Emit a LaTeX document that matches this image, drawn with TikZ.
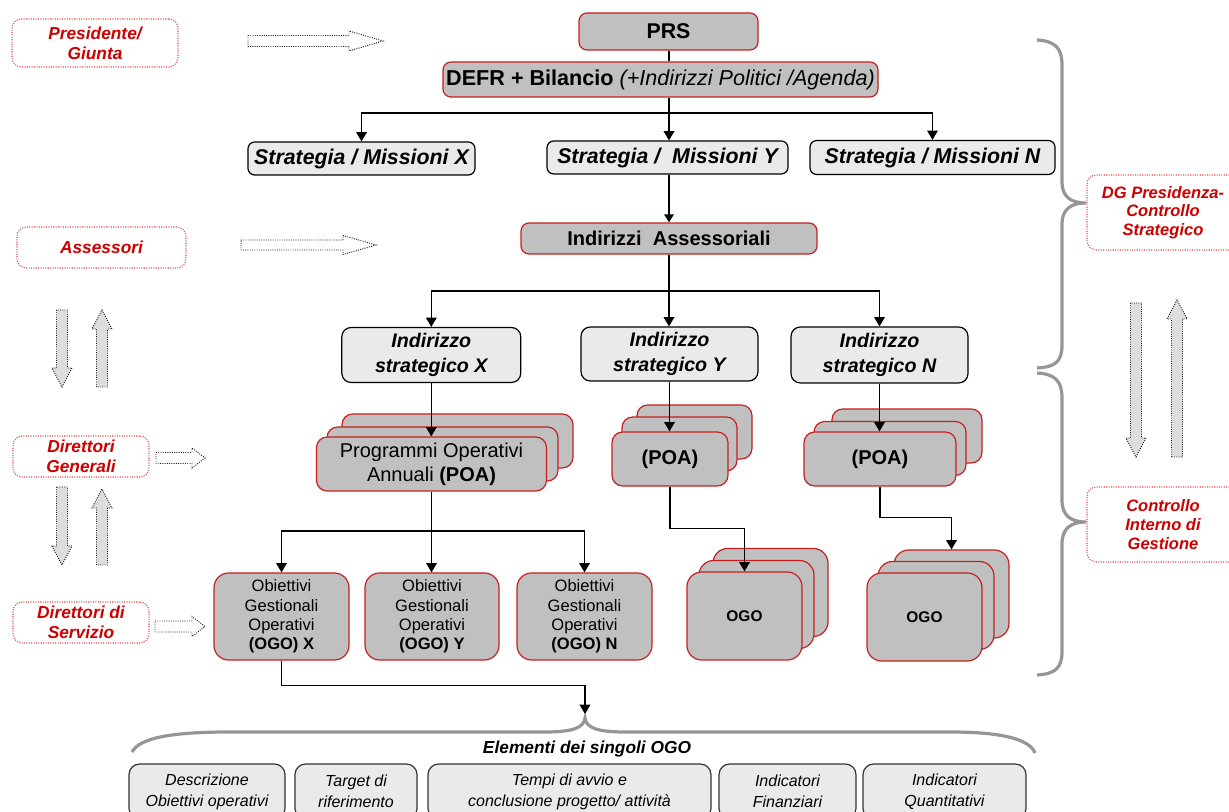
\documentclass[tikz,border=0pt]{standalone}
\usepackage{fontspec}
\setmainfont{Liberation Sans}
\usetikzlibrary{arrows.meta,positioning}

\definecolor{redc}{RGB}{204,0,0}
\definecolor{boxred}{RGB}{200,30,30}
\definecolor{darkf}{RGB}{192,192,192}
\definecolor{lightf}{RGB}{234,234,234}
\definecolor{bracec}{RGB}{150,150,150}
\definecolor{arrf}{RGB}{221,221,221}

\begin{document}
\begin{tikzpicture}[
		x=0.75pt, y=-0.75pt,
		arrow/.style={-{Triangle[length=7pt,width=8pt]}, line width=1pt},
		thickarrow/.style={-{Triangle[length=6pt,width=7pt]}, line width=2.2pt},
		block/.style={rounded corners=6pt, inner sep=0pt, align=center, line width=0.9pt},
		darkblock/.style={block, draw=boxred, fill=darkf},
		lightblock/.style={block, draw=black, fill=lightf},
		actor/.style={draw=redc!70, densely dotted, line width=0.8pt, rounded corners=7pt, text=redc, align=center, inner sep=0pt, font=\fontsize{13}{15}\selectfont\bfseries\itshape},
		hollow/.style={draw=black!90, densely dotted, line width=0.7pt},
		brace/.style={draw=bracec, line width=2.4pt},
	]
	\useasboundingbox (0,0) rectangle (1229,812);

	% actors on the left and on the right
	\node (pres) [actor, minimum width=124.5pt, minimum height=36pt] at (95,43) {Presidente/\\Giunta};
	\node (asses) [actor, minimum width=126.75pt, minimum height=30.75pt] at (101.5,247.5) {Assessori};
	\node (dirgen) [actor, minimum width=102pt, minimum height=30.75pt] at (81,456.5) {Direttori\\Generali};
	\node (dirser) [actor, minimum width=102pt, minimum height=30.75pt] at (81,622.5) {Direttori di\\Servizio};
	\node (dgpres) [actor, font=\fontsize{12.4}{14}\selectfont\bfseries\itshape, minimum width=114pt, minimum height=56.25pt] at (1163,212.5) {DG Presidenza-\\Controllo\\Strategico};
	\node (ctrlint) [actor, font=\fontsize{12.4}{14}\selectfont\bfseries\itshape, minimum width=114pt, minimum height=56.25pt] at (1163,524.5) {Controllo\\Interno di\\Gestione};

	% hollow arrows
	\draw[hollow, fill=white] (248,35.5) -- (349,35.5) -- (349,31) -- (383,41) -- (349,51) -- (349,46.5) -- (248,46.5) -- cycle;
	\draw[hollow, fill=white] (241,240) -- (343,240) -- (343,235.5) -- (376,245) -- (343,254.5) -- (343,250) -- (241,250) -- cycle;
	\draw[hollow, fill=white] (156,452.5) -- (192,452.5) -- (192,448) -- (205,458) -- (192,468) -- (192,463.5) -- (156,463.5) -- cycle;
	\draw[hollow, fill=white] (155,621) -- (192,621) -- (192,616.5) -- (205,626.5) -- (192,636.5) -- (192,632) -- (155,632) -- cycle;
	\foreach \cx/\ya/\yb in {62/310/387, 62/487/565, 1136/303/457}
		\draw[hollow, fill=arrf] (\cx-5.5,\ya) -- (\cx-5.5,\yb-19) -- (\cx-10,\yb-19) -- (\cx,\yb) -- (\cx+10,\yb-19) -- (\cx+5.5,\yb-19) -- (\cx+5.5,\ya) -- cycle;
	\foreach \cx/\ya/\yb in {102/310/387, 102/489/565, 1177/300/457}
		\draw[hollow, fill=arrf] (\cx-5.5,\yb) -- (\cx-5.5,\ya+19) -- (\cx-10,\ya+19) -- (\cx,\ya) -- (\cx+10,\ya+19) -- (\cx+5.5,\ya+19) -- (\cx+5.5,\yb) -- cycle;

	% braces
	\draw[brace] (1037,40) .. controls (1055,41) and (1062,48) .. (1062,65) -- (1062,182) .. controls (1062,196) and (1070,203) .. (1086,203) .. controls (1070,203) and (1062,210) .. (1062,224) -- (1062,345) .. controls (1062,362) and (1055,367) .. (1037,368);
	\draw[brace] (1037,373) .. controls (1055,374) and (1062,381) .. (1062,398) -- (1062,500) .. controls (1062,515) and (1070,522) .. (1086,522) .. controls (1070,522) and (1062,529) .. (1062,544) -- (1062,652) .. controls (1062,668) and (1055,674) .. (1037,675);
	\draw[brace] (132,752) .. controls (140,737) and (175,732) .. (230,732) -- (545,732) .. controls (572,732) and (584,728) .. (585,718) .. controls (586,728) and (598,732) .. (625,732) -- (950,732) .. controls (1005,732) and (1030,740) .. (1035,753);

	% top of the tree
	\node (prs) [darkblock, minimum width=134.25pt, minimum height=27.75pt, font=\fontsize{16}{18}\selectfont\bfseries] at (668.5,31.5) {PRS};
	\node (defr) [darkblock, minimum width=326.25pt, minimum height=26.25pt, font=\fontsize{16.2}{18}\selectfont\bfseries] at (660.5,79.5) {DEFR + Bilancio {\mdseries\itshape (+Indirizzi Politici /Agenda)}};
	\node (stratx) [lightblock, rounded corners=5pt, minimum width=170.25pt, minimum height=24.75pt, font=\fontsize{16}{18}\selectfont\bfseries\itshape] at (361.5,158.5) {Strategia / Missioni X};
	\node (straty) [lightblock, rounded corners=5pt, minimum width=180.75pt, minimum height=24.75pt, font=\fontsize{16}{18}\selectfont\bfseries\itshape] at (667.5,157.5) {Strategia /~ Missioni Y};
	\node (stratn) [lightblock, rounded corners=5pt, minimum width=183.75pt, minimum height=25.5pt, font=\fontsize{16}{18}\selectfont\bfseries\itshape] at (932.5,157.5) {Strategia / Missioni N};
	\node (assind) [darkblock, minimum width=222pt, minimum height=23.25pt, font=\fontsize{15}{18}\selectfont\bfseries] at (669,238.5) {Indirizzi~ Assessoriali};

	% indirizzi strategici
	\node (indx) [lightblock, rounded corners=7pt, minimum width=134.25pt, minimum height=41.25pt, font=\fontsize{14.75}{18.5}\selectfont\bfseries\itshape] at (431.3,355) {Indirizzo\\strategico X};
	\node (indy) [lightblock, rounded corners=7pt, minimum width=132.75pt, minimum height=40.5pt, font=\fontsize{14.75}{18.5}\selectfont\bfseries\itshape] at (669.5,354) {Indirizzo\\strategico Y};
	\node (indn) [lightblock, rounded corners=7pt, minimum width=132.75pt, minimum height=42pt, font=\fontsize{14.75}{18.5}\selectfont\bfseries\itshape] at (879.5,355) {Indirizzo\\strategico N};

	% POA stacks
	\node (poax3) [darkblock, rounded corners=8pt, minimum width=173.25pt, minimum height=40.5pt] at (457.5,441) {};
	\node (poax2) [darkblock, rounded corners=8pt, minimum width=173.25pt, minimum height=40.5pt] at (442.5,454) {};
	\node (poax) [darkblock, rounded corners=8pt, minimum width=172.5pt, minimum height=40.5pt, font=\fontsize{15}{18}\selectfont] at (431.5,464) {Programmi Operativi\\Annuali \textbf{(POA)}};
	\node (poay3) [darkblock, rounded corners=8pt, minimum width=86.25pt, minimum height=40.5pt] at (694.5,432) {};
	\node (poay2) [darkblock, rounded corners=8pt, minimum width=86.25pt, minimum height=40.5pt] at (679.5,444) {};
	\node (poay) [darkblock, rounded corners=8pt, minimum width=87pt, minimum height=40.5pt, font=\fontsize{15}{18}\selectfont\bfseries] at (670,459) {(POA)};
	\node (poan3) [darkblock, rounded corners=8pt, minimum width=112.5pt, minimum height=40.5pt] at (907,436) {};
	\node (poan2) [darkblock, rounded corners=8pt, minimum width=114pt, minimum height=40.5pt] at (890,448.5) {};
	\node (poan) [darkblock, rounded corners=8pt, minimum width=114pt, minimum height=40.5pt, font=\fontsize{15}{18}\selectfont\bfseries] at (880,459) {(POA)};

	% OGO
	\node (ogox) [darkblock, rounded corners=11pt, minimum width=101.25pt, minimum height=65.25pt, font=\fontsize{12.4}{14.6}\selectfont] at (281.5,616.5) {Obiettivi\\Gestionali\\Operativi\\\textbf{(OGO) X}};
	\node (ogoy) [darkblock, rounded corners=11pt, minimum width=100.5pt, minimum height=65.25pt, font=\fontsize{12.4}{14.6}\selectfont] at (432,616.5) {Obiettivi\\Gestionali\\Operativi\\\textbf{(OGO) Y}};
	\node (ogon) [darkblock, rounded corners=11pt, minimum width=101.25pt, minimum height=65.25pt, font=\fontsize{12.4}{14.6}\selectfont] at (584.5,616.5) {Obiettivi\\Gestionali\\Operativi\\\textbf{(OGO) N}};
	\node (ogoy3) [darkblock, rounded corners=11pt, minimum width=86.25pt, minimum height=66pt] at (770.5,592.5) {};
	\node (ogoy2) [darkblock, rounded corners=11pt, minimum width=86.25pt, minimum height=66pt] at (756.5,604.5) {};
	\node (ogoy1) [darkblock, rounded corners=11pt, minimum width=86.25pt, minimum height=66pt, font=\fontsize{11.6}{14}\selectfont\bfseries] at (744.5,616) {OGO};
	\node (ogon3) [darkblock, rounded corners=11pt, minimum width=86.25pt, minimum height=66pt] at (951.5,594) {};
	\node (ogon2) [darkblock, rounded corners=11pt, minimum width=87pt, minimum height=66pt] at (936,605.5) {};
	\node (ogon1) [darkblock, rounded corners=11pt, minimum width=86.25pt, minimum height=66pt, font=\fontsize{11.6}{14}\selectfont\bfseries] at (924.5,617) {OGO};

	% elementi dei singoli OGO
	\node (elem) [font=\fontsize{13}{15}\selectfont\bfseries\itshape] at (587,749) {Elementi dei singoli OGO};
	\node (descr) [lightblock, draw=black!80, rounded corners=8pt, minimum width=117pt, minimum height=41.25pt, font=\fontsize{12}{15.75}\selectfont\itshape] at (207,791.5) {Descrizione\\Obiettivi operativi};
	\node (target) [lightblock, draw=black!80, rounded corners=8pt, minimum width=91.5pt, minimum height=41.25pt, font=\fontsize{12}{15.75}\selectfont\itshape] at (356,791.5) {Target di\\riferimento};
	\node (tempi) [lightblock, draw=black!80, rounded corners=8pt, minimum width=212.25pt, minimum height=41.25pt, font=\fontsize{12}{15.75}\selectfont\itshape] at (569.5,791.5) {Tempi di avvio e\\conclusione progetto/ attività};
	\node (indfin) [lightblock, draw=black!80, rounded corners=8pt, minimum width=102.75pt, minimum height=41.25pt, font=\fontsize{12}{15.75}\selectfont\itshape] at (787.5,791.5) {Indicatori\\Finanziari};
	\node (indqua) [lightblock, draw=black!80, rounded corners=8pt, minimum width=122.25pt, minimum height=41.25pt, font=\fontsize{12}{15.75}\selectfont\itshape] at (944.5,791.5) {Indicatori\\Quantitativi};

	% connectors
	\coordinate (bus1) at (669,113);
	\coordinate (bus2) at (669,291);
	\coordinate (bus3) at (431.5,531);
	\coordinate (bracetip) at (585,714);
	\draw[line width=1pt] (prs.south -| bus1) -- (defr.north -| bus1);
	\draw[line width=1pt] (defr.south -| bus1) -- (bus1);
	\draw[arrow] (bus1) -| (stratx.north);
	\draw[arrow] (bus1) -- (straty.north -| bus1);
	\draw[arrow] (bus1) -| (stratn.north);
	\draw[thickarrow] (straty.south -| bus1) -- (assind.north -| bus1);
	\draw[line width=1pt] (assind.south -| bus2) -- (bus2);
	\draw[arrow] (bus2) -| (indx.north);
	\draw[arrow] (bus2) -- (indy.north -| bus2);
	\draw[arrow] (bus2) -| (indn.north);
	\draw[arrow] (indx.south) -- (indx.south |- poax.north);
	\draw[arrow] (indy.south) -- (indy.south |- poay.north);
	\draw[arrow] (indn.south) -- (indn.south |- poan.north);
	\draw[line width=1pt] (poax.south) -- (bus3);
	\draw[arrow] (bus3) -| (ogox.north);
	\draw[arrow] (bus3) -- (ogoy.north -| bus3);
	\draw[arrow] (bus3) -| (ogon.north);
	\draw[arrow] (poay.south) -- ++(0,42) -| (ogoy1.north);
	\draw[arrow] (poan.south) -- ++(0,31) -| (ogon3.north);
	\draw[arrow] (ogox.south) -- ++(0,25) -| (bracetip);
\end{tikzpicture}
\end{document}
